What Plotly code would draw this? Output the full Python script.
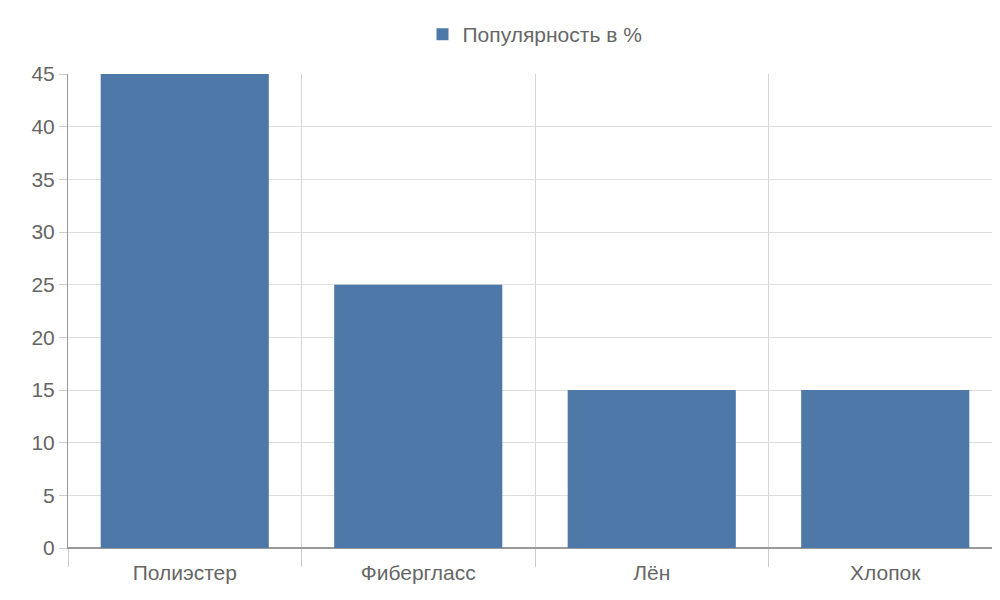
import plotly.graph_objects as go

categories = ['Полиэстер', 'Фибергласс', 'Лён', 'Хлопок']
popularity = [45, 25, 15, 15]

fig = go.Figure()
fig.add_trace(go.Bar(x=categories, y=popularity, name='Популярность в %',
                     marker=dict(color='#4e78a8', line=dict(width=0)), width=0.72))

fig.update_layout(
    width=1000, height=600,
    plot_bgcolor='white', paper_bgcolor='white',
    margin=dict(l=60, r=6, t=64, b=60),
    font=dict(family='Liberation Sans, Arial', size=20, color='#666666'),
    showlegend=True,
    legend=dict(orientation='h', x=0.5, xanchor='center', y=1.04, yanchor='bottom',
                font=dict(size=21, color='#666666')),
)
fig.update_xaxes(tickson='boundaries', ticks='outside', ticklen=18, tickcolor='#cccccc',
                 showgrid=True, gridcolor='#d6d6d6', showline=True, linecolor='#999999',
                 automargin=False, ticklabelstandoff=6,
                 tickfont=dict(size=21, color='#666666'))
fig.update_yaxes(range=[0, 45], dtick=5, ticks='outside', ticklen=8, tickcolor='#cccccc',
                 showgrid=True, gridcolor='#dedede', showline=True, linecolor='#999999',
                 zeroline=True, zerolinecolor='#999999', automargin=False,
                 tickfont=dict(size=21, color='#666666'))

fig.write_html("out.html")
